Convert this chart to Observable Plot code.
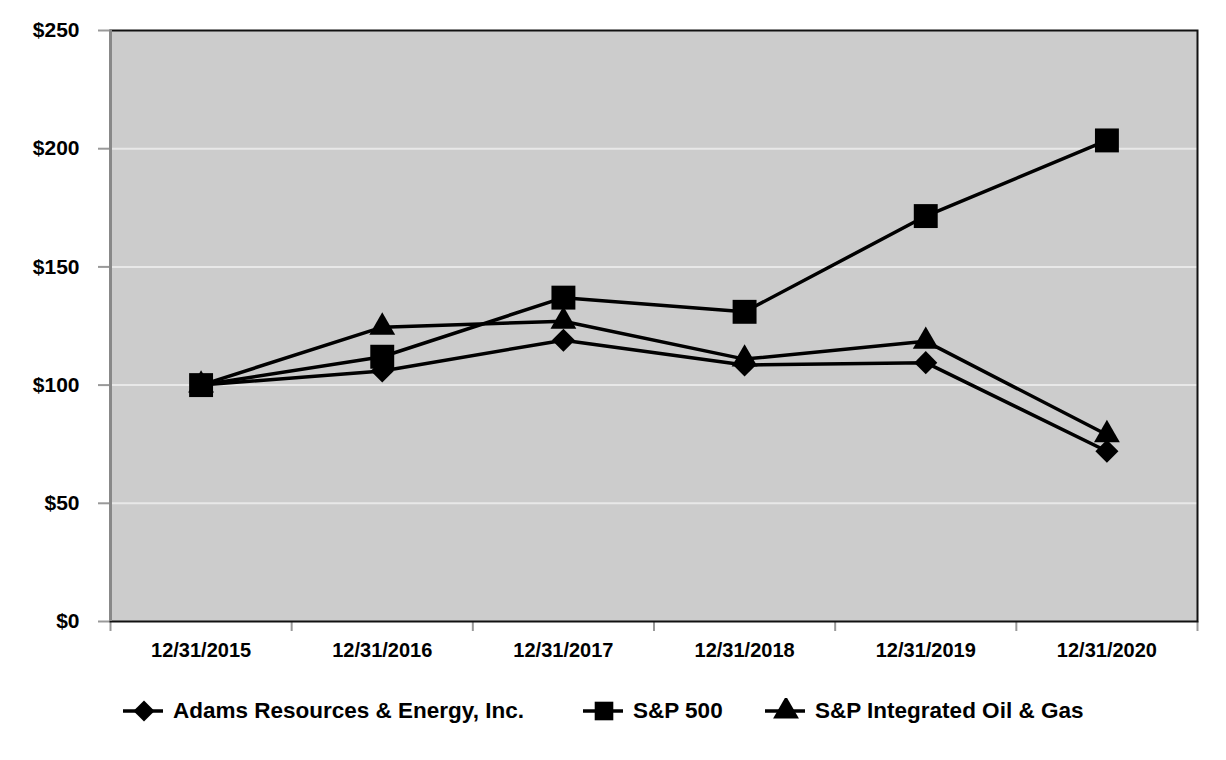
<!DOCTYPE html>
<html>
<head>
<meta charset="utf-8">
<script src="https://cdn.jsdelivr.net/npm/d3@7"></script>
<script src="https://cdn.jsdelivr.net/npm/@observablehq/plot@0.6"></script>
<style>
  html, body { margin: 0; padding: 0; background: #fff; }
  body { width: 1226px; height: 760px; position: relative; font-family: "Liberation Sans", Arial, sans-serif; }
  #legend { position: absolute; top: 698px; left: 0; width: 1226px; height: 26px; }
  .item { position: absolute; top: 0; display: flex; align-items: center; height: 26px; font-weight: bold; font-size: 22.5px; color: #000; white-space: nowrap; }
  .item svg { margin-right: 10px; }
</style>
</head>
<body>
<div id="chart"></div>
<div id="legend"></div>
<script>
const dates = ["12/31/2015", "12/31/2016", "12/31/2017", "12/31/2018", "12/31/2019", "12/31/2020"];
const seriesNames = ["Adams Resources & Energy, Inc.", "S&P 500", "S&P Integrated Oil & Gas"];
const adams = [100, 106, 119, 108.5, 109.5, 72];
const sp500 = [100, 112, 137, 131, 171.5, 203.5];
const oilGas = [100, 124.5, 127, 111, 118.5, 79];
const yTicks = [0, 50, 100, 150, 200, 250];
const gridTicks = [50, 100, 150, 200];

const seriesValues = [adams, sp500, oilGas];
const data = [];
seriesValues.forEach((vals, s) => vals.forEach((v, i) => data.push({series: seriesNames[s], i, date: dates[i], value: v})));
const boundaries = d3.range(dates.length + 1).map(k => k - 0.5);

const symbols = [d3.symbolDiamond2, d3.symbolSquare, d3.symbolTriangle];
const radii = [10.4, 13.5, 9.6];
const legendRadii = [9.5, 10.5, 9.6];

const plot = Plot.plot({
  width: 1226,
  height: 665,
  marginLeft: 110,
  marginRight: 29,
  marginTop: 30,
  marginBottom: 44,
  style: {fontFamily: "'Liberation Sans', Arial, sans-serif", fontWeight: "bold", background: "white", color: "black"},
  x: {type: "linear", domain: [-0.5, dates.length - 0.5], label: null},
  y: {domain: [0, 250], label: null},
  marks: [
    Plot.frame({fill: "#cccccc", stroke: null}),
    Plot.gridY(gridTicks, {stroke: "#e8e8e8", strokeOpacity: 1, strokeWidth: 2}),
    Plot.axisX({ticks: boundaries, tickSize: 10, tickFormat: () => "", stroke: "#999", strokeWidth: 2, label: null}),
    Plot.axisX({ticks: d3.range(dates.length), tickSize: 0, tickPadding: 21, tickFormat: i => dates[i], fontSize: 20, fill: "black", label: null}),
    Plot.axisY({ticks: yTicks, tickSize: 12, tickFormat: () => "", stroke: "#999", strokeWidth: 2, label: null}),
    Plot.axisY({ticks: yTicks, tickSize: 0, tickPadding: 31, tickFormat: d => "$" + d, fontSize: 21, fill: "black", label: null}),
    Plot.line(data, {x: "i", y: "value", z: "series", stroke: "black", strokeWidth: 3.5, strokeLinejoin: "round"}),
    ...seriesNames.map((name, s) =>
      Plot.dot(data.filter(d => d.series === name), {x: "i", y: "value", symbol: symbols[s], r: radii[s], fill: "black", stroke: null})
    ),
    Plot.frame({stroke: "#111", strokeWidth: 2, fill: null}),
    Plot.ruleX([-0.5], {stroke: "#888", strokeWidth: 3})
  ]
});
document.getElementById("chart").appendChild(plot);

// legend
const legend = document.getElementById("legend");
const lefts = [123, 583, 765];
seriesNames.forEach((name, s) => {
  const item = document.createElement("div");
  item.className = "item";
  item.style.left = lefts[s] + "px";
  const svg = d3.create("svg").attr("width", 40).attr("height", 26);
  svg.append("line").attr("x1", 0).attr("x2", 40).attr("y1", 13).attr("y2", 13).attr("stroke", "black").attr("stroke-width", 3.5);
  const size = Math.PI * legendRadii[s] * legendRadii[s];
  svg.append("path").attr("transform", "translate(21,13)").attr("d", d3.symbol(symbols[s], size)()).attr("fill", "black");
  item.appendChild(svg.node());
  const span = document.createElement("span");
  span.textContent = name;
  item.appendChild(span);
  legend.appendChild(item);
});
</script>
</body>
</html>
